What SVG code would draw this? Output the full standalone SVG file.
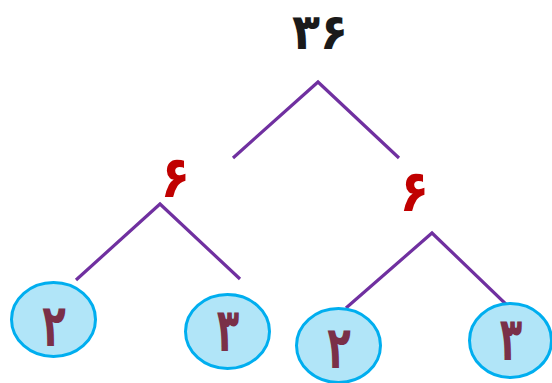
<svg xmlns="http://www.w3.org/2000/svg" width="552" height="383" viewBox="0 0 552 383">
  <style>
    .edge { stroke: #7030A0; stroke-width: 3.2; fill: none; stroke-linecap: butt; stroke-linejoin: miter; }
    .leaf { fill: #B1E5F8; stroke: #00AEEF; stroke-width: 3; }
    .num { font-family: "DejaVu Sans", sans-serif; font-weight: bold; text-anchor: middle; }
    .root { fill: #1a1a1a; font-size: 46px; }
    .mid { fill: #C00000; font-size: 48px; }
    .prime { fill: #7A3048; font-size: 42px; }
  </style>
  <rect width="552" height="383" fill="#ffffff"/>

  <g id="connectors">
    <polyline class="edge" points="233,158 318,82 399,158"/>
    <polyline class="edge" points="76,280 160,204 240,279"/>
    <polyline class="edge" points="346,308 432,233 510,308"/>
  </g>

  <g id="n36">
    <text class="num root" transform="translate(320,49) scale(1,1.08)">۳۶</text>
  </g>
  <g id="n6-left">
    <text class="num mid" transform="translate(175.5,197) scale(1,1.2)">۶</text>
  </g>
  <g id="n6-right">
    <text class="num mid" transform="translate(414.5,211) scale(1,1.2)">۶</text>
  </g>

  <g id="leaf-2a">
    <ellipse class="leaf" cx="53.5" cy="319.5" rx="42" ry="37"/>
    <text class="num prime" transform="translate(54,346) scale(0.92,1.4)">۲</text>
  </g>
  <g id="leaf-3a">
    <ellipse class="leaf" cx="227.5" cy="331.5" rx="42" ry="37"/>
    <text class="num prime" transform="translate(228,351) scale(0.88,1.45)">۳</text>
  </g>
  <g id="leaf-2b">
    <ellipse class="leaf" cx="338.5" cy="345.5" rx="42" ry="37"/>
    <text class="num prime" transform="translate(339,368) scale(0.92,1.4)">۲</text>
  </g>
  <g id="leaf-3b">
    <ellipse class="leaf" cx="510.5" cy="340.5" rx="41" ry="37"/>
    <text class="num prime" transform="translate(511,360) scale(0.88,1.45)">۳</text>
  </g>
</svg>
